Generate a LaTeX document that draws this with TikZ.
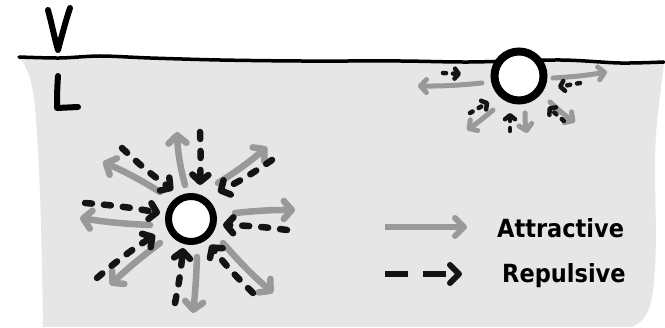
\documentclass[tikz,border=0pt]{standalone}
\usepackage{fontspec}
\setmainfont{DejaVu Sans}
\newfontfamily\legendfont{DejaVuSansCondensed-Bold.ttf}
\usetikzlibrary{arrows.meta}
\definecolor{liquid}{HTML}{E6E6E6}
\definecolor{attrgray}{HTML}{999999}
\definecolor{ink}{HTML}{141414}
\begin{document}
\begin{tikzpicture}[x=1pt,y=-1pt,
  attract/.style={draw=attrgray, line width=6.5pt, line cap=round, line join=round,
    -{Straight Barb[round,length=8pt,width=18pt]}},
  repulse/.style={draw=ink, line width=6.5pt, line cap=round, dash pattern=on 7pt off 12pt,
    -{Straight Barb[round,length=7pt,width=16pt]}},
  attractsmall/.style={attract, line width=5pt, -{Straight Barb[round,length=6pt,width=13pt]}},
  repulsesmall/.style={repulse, line width=4.5pt, dash pattern=on 3pt off 7pt,
    -{Straight Barb[round,length=4pt,width=10pt]}},
  bubble/.style={circle, draw=black, fill=white, inner sep=0pt},
  letter/.style={line width=6pt, line cap=round, line join=round},
  legendtext/.style={anchor=base west, inner sep=0pt, font=\legendfont\fontsize{25}{25}\selectfont}]
\useasboundingbox (0,0) rectangle (665,328);

% liquid body below the surface
\fill[liquid] (664,62) .. controls (660,100) and (655,125) .. (655,165)
  .. controls (655,210) and (658,250) .. (653,290)
  .. controls (651,312) and (642,326) .. (628,327)
  -- (43,327) .. controls (42,250) and (40,170) .. (36,120)
  .. controls (34,90) and (30,70) .. (19,57)
  -- plot[smooth] coordinates {(19,57) (60,58) (100,56) (150,58) (220,60) (300,61)
     (400,61) (470,62) (560,60) (620,63) (664,62)} -- cycle;

% vapour/liquid interface
\draw[line width=3.5pt, line cap=round] plot[smooth] coordinates {(19,57) (60,58) (100,56)
  (150,58) (220,60) (300,61) (400,61) (470,62) (560,60) (620,63) (664,62)};

% phase labels
\draw[letter] (48,10) .. controls (52,25) and (55,40) .. (58,50) .. controls (62,35) and (66,20) .. (70,8);
\draw[letter] (58,76) .. controls (57,90) and (57,100) .. (57,108) -- (78,107);

% bubble inside the liquid
\node[bubble, line width=7pt, minimum size=45pt] (deep) at (191,219) {};
\foreach \xa/\ya/\xb/\yb/\bd [count=\i] in {
  185/185/177/132/6, 160/192/103/162/-4, 150/225/80/218/3, 160/243/110/285/-3,
  197/257/193/313/2, 223/243/273/293/-4, 235/213/295/210/3, 218/183/267/147/-4} {
  \coordinate (att\i-a) at (\xa,\ya);
  \coordinate (att\i-b) at (\xb,\yb);
  \draw[attract] (att\i-a) to[bend left=\bd] (att\i-b);
}
\foreach \xa/\ya/\xb/\yb/\bd [count=\i] in {
  200/132/200/185/2, 122/148/173/190/-4, 85/203/160/213/3, 97/278/155/235/4,
  175/303/183/248/-3, 253/293/210/245/4, 287/230/223/225/-3, 272/160/218/192/4} {
  \coordinate (rep\i-a) at (\xa,\ya);
  \coordinate (rep\i-b) at (\xb,\yb);
  \draw[repulse] (rep\i-a) to[bend left=\bd] (rep\i-b);
}

% bubble at the surface
\node[bubble, line width=8pt, minimum size=49pt] (surf) at (519,76) {};
\foreach \xa/\ya/\xb/\yb/\bd [count=\i] in {
  482/83/418/86/3, 553/78/607/72/-3, 493/110/467/130/3, 525/113/527/133/-6, 550/102/575/122/-5} {
  \coordinate (satt\i-a) at (\xa,\ya);
  \coordinate (satt\i-b) at (\xb,\yb);
  \draw[attractsmall] (satt\i-a) to[bend left=\bd] (satt\i-b);
}
\foreach \xa/\ya/\xb/\yb/\bd [count=\i] in {
  443/73/461/74/0, 580/83/558/87/0, 470/113/489/102/0, 510/131/510/113/0, 564/121/548/107/0} {
  \coordinate (srep\i-a) at (\xa,\ya);
  \coordinate (srep\i-b) at (\xb,\yb);
  \draw[repulsesmall] (srep\i-a) to[bend left=\bd] (srep\i-b);
}

% legend
\coordinate (la-a) at (385,227);
\coordinate (la-b) at (467,227);
\draw[attract, line width=6pt, line cap=butt, -{Straight Barb[round,length=9pt,width=18pt]}] (la-a) -- (la-b);
\node[legendtext] (la-text) at (497,238) {Attractive};
\coordinate (lr-a) at (385,274);
\coordinate (lr-b) at (462,274);
\draw[repulse, line width=6pt, line cap=butt, dash pattern=on 23pt off 15pt,
  -{Straight Barb[round,length=9pt,width=18pt]}] (lr-a) -- (lr-b);
\node[legendtext] (lr-text) at (502,283) {Repulsive};
\end{tikzpicture}
\end{document}
